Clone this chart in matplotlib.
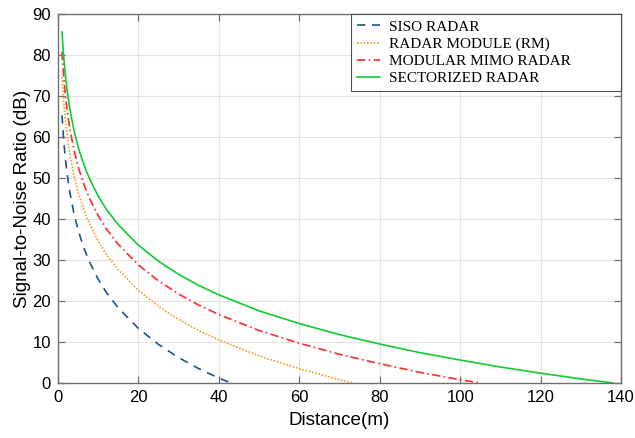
import matplotlib
matplotlib.use("Agg")
import matplotlib.pyplot as plt

# SNR vs distance
SISO_D = [1, 1.25, 1.5, 1.75, 2, 2.5, 3, 4, 5, 6, 7, 8, 10, 12, 15, 20, 25, 30, 35, 40, 43]
SISO_SNR = [65.3, 61.4, 58.3, 55.6, 53.3, 49.4, 46.2, 41.2, 37.3, 34.2, 31.5, 29.2,
            25.3, 22.1, 18.3, 13.3, 9.4, 6.2, 3.5, 1.2, 0.0]

RM_D = [1, 1.25, 1.5, 1.75, 2, 2.5, 3, 4, 5, 6, 7, 8, 10, 12, 15, 20, 25, 30, 35, 40,
        50, 60, 70, 73.5]
RM_SNR = [74.6, 70.7, 67.6, 64.9, 62.6, 58.7, 55.5, 50.5, 46.6, 43.5, 40.8, 38.5,
          34.6, 31.4, 27.6, 22.6, 18.7, 15.5, 12.8, 10.5, 6.6, 3.5, 0.8, 0.0]

MIMO_D = [1, 1.25, 1.5, 1.75, 2, 2.5, 3, 4, 5, 6, 7, 8, 10, 12, 15, 20, 25, 30, 35, 40,
          50, 60, 70, 80, 90, 100, 105]
MIMO_SNR = [80.8, 76.9, 73.8, 71.1, 68.8, 64.9, 61.7, 56.7, 52.8, 49.7, 47.0, 44.7,
            40.8, 37.6, 33.8, 28.8, 24.9, 21.7, 19.0, 16.7, 12.8, 9.7, 7.0, 4.7,
            2.6, 0.8, 0.0]

SECT_D = [1, 1.25, 1.5, 1.75, 2, 2.5, 3, 4, 5, 6, 7, 8, 10, 12, 15, 20, 25, 30, 35, 40,
          50, 60, 70, 80, 90, 100, 110, 120, 130, 138]
SECT_SNR = [85.6, 81.7, 78.6, 75.9, 73.6, 69.7, 66.5, 61.5, 57.6, 54.5, 51.8, 49.5,
            45.6, 42.4, 38.6, 33.6, 29.7, 26.5, 23.8, 21.5, 17.6, 14.5, 11.8, 9.5,
            7.4, 5.6, 3.9, 2.4, 1.0, 0.0]

LABELS = ["SISO RADAR", "RADAR MODULE (RM)", "MODULAR MIMO RADAR", "SECTORIZED RADAR"]
X_TICKS = [0, 20, 40, 60, 80, 100, 120, 140]
Y_TICKS = [0, 10, 20, 30, 40, 50, 60, 70, 80, 90]

plt.rcParams["font.family"] = ["Liberation Sans", "DejaVu Sans"]

fig = plt.figure(figsize=(6.35, 4.38), dpi=100)
fig.subplots_adjust(left=58 / 635, right=621 / 635, top=1 - 14 / 438, bottom=1 - 383 / 438)
ax = fig.add_subplot(111)

ax.plot(SISO_D, SISO_SNR, color="#1f5291", lw=1.2, linestyle=(0, (5, 4)), label=LABELS[0])
ax.plot(RM_D, RM_SNR, color="#f0a020", lw=1.2, linestyle=(0, (1, 1)), label=LABELS[1])
ax.plot(MIMO_D, MIMO_SNR, color="#ff2a2a", lw=1.2, linestyle=(0, (5, 2, 1, 2)), label=LABELS[2])
ax.plot(SECT_D, SECT_SNR, color="#10cc30", lw=1.2, linestyle="-", label=LABELS[3])

ax.set_xlim(0, 140)
ax.set_ylim(0, 90)
ax.set_xticks(X_TICKS)
ax.set_yticks(Y_TICKS)
ax.grid(True, color="#e3e3e3", lw=0.8)
ax.set_axisbelow(True)
for s in ax.spines.values():
    s.set_color("#707070")
    s.set_linewidth(1.0)
ax.tick_params(direction="in", length=5, width=0.9, color="#707070",
               top=True, right=True, labelsize=12, pad=5)

ax.set_xlabel("Distance(m)", fontsize=13.6, labelpad=5)
ax.set_ylabel("Signal-to-Noise Ratio (dB)", fontsize=13.6, labelpad=1)

# MATLAB-style legend box: wider than its text, flush with the top-right corner
leg = ax.legend(loc="upper left", bbox_to_anchor=(0.520, 0.778, 0.480, 0.222),
                mode="expand", borderaxespad=0, fancybox=False, framealpha=1,
                edgecolor="#505050", handlelength=1.5, handletextpad=0.6,
                labelspacing=0.22, borderpad=0.4,
                prop={"family": "Liberation Serif", "size": 11})
leg.get_frame().set_linewidth(0.8)

fig.savefig("out.png", dpi=100)
